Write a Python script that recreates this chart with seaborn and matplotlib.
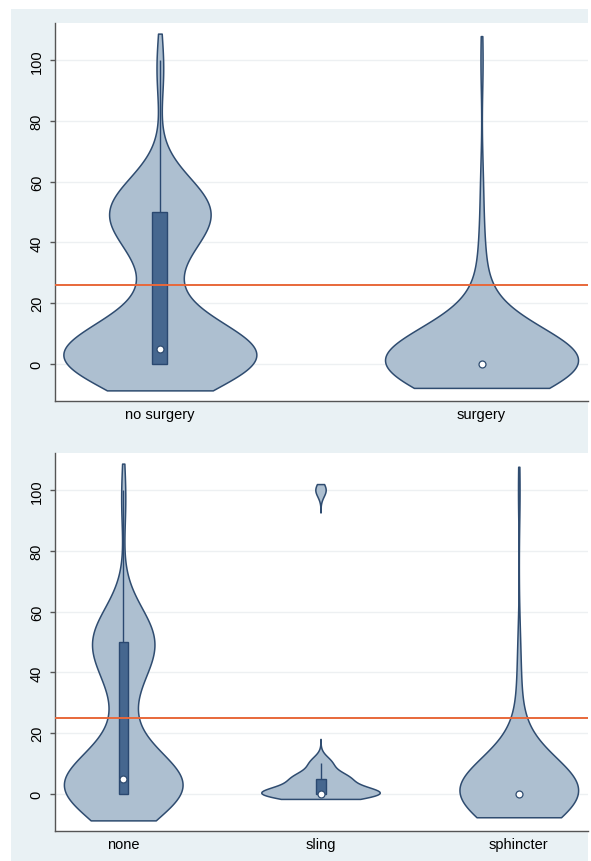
import numpy as np
import pandas as pd
import seaborn as sns
import matplotlib.pyplot as plt
from matplotlib.patches import Rectangle

''' DATA '''
# panel 1: surgery vs no surgery
top_groups = ['no surgery', 'surgery']
nosurg_vals = [0, 5, 10, 15, 20, 25, 30, 35, 40, 45, 50, 55, 60, 95, 100]
nosurg_counts = [33, 18, 6, 3, 1, 1, 1, 3, 4, 4, 15, 6, 3, 1, 1]
surg_vals = [0, 5, 10, 15, 20, 25, 30, 35, 45, 60, 100]
surg_counts = [77, 10, 6, 2, 1, 1, 1, 1, 1, 1, 1]

# panel 2: type of surgery
bottom_groups = ['none', 'sling', 'sphincter']
none_vals = [0, 5, 10, 15, 20, 25, 30, 35, 40, 45, 50, 55, 60, 95, 100]
none_counts = [33, 18, 6, 3, 1, 1, 1, 3, 4, 4, 15, 6, 3, 1, 1]
sling_vals = [0, 5, 10, 100]
sling_counts = [11, 5, 2, 1]
sphinc_vals = [0, 5, 10, 15, 20, 25, 30, 40, 50, 100]
sphinc_counts = [64, 9, 5, 1, 1, 1, 1, 1, 1, 1]

# kernel bandwidths (score units), cut (in bandwidths) and reference lines
top_bw = [10.0, 10.5]
top_cut = [0.88, 0.76]
bottom_bw = [10.0, 2.2, 10.5]
bottom_cut = [0.88, 0.86, 0.74]
ref_top = 25.8
ref_bottom = 25.1
y_ticks = [0, 20, 40, 60, 80, 100]

''' STYLE '''
violin_fill = '#adbfd0'
violin_edge = '#2f4c70'
box_fill = '#46678f'
box_edge = '#2a4870'
ref_color = '#e8683a'
panel_bg = '#e9f1f4'
grid_color = '#edf0f2'

plt.rcParams['font.family'] = ['Liberation Sans', 'DejaVu Sans']


def drop_gaps(coll, tol=1e-4):
    # split a violin where its width is ~0 so empty stretches are not outlined
    v = coll.get_paths()[0].vertices
    t = np.unique(v[:, 1])
    lo = np.array([v[v[:, 1] == y, 0].min() for y in t])
    hi = np.array([v[v[:, 1] == y, 0].max() for y in t])
    keep = (hi - lo) > tol
    edges = np.flatnonzero(np.diff(np.r_[0, keep.astype(int), 0]))
    polys = []
    for a, b in zip(edges[::2], edges[1::2]):
        polys.append(np.r_[np.c_[lo[a:b], t[a:b]], np.c_[hi[a:b], t[a:b]][::-1]])
    coll.set_verts(polys)


def draw_panel(ax, groups, samples, bws, cuts, ref, xlim):
    for name, obs, bw, cut in zip(groups, samples, bws, cuts):
        sns.violinplot(
            x=[name] * len(obs), y=obs, order=groups, ax=ax,
            bw_method=bw / np.std(obs, ddof=1), cut=cut, gridsize=300,
            density_norm='width', width=0.6, inner=None, saturation=1,
            color=violin_fill, linecolor=violin_edge, linewidth=1.1
        )
        drop_gaps(ax.collections[-1])

    # boxes only where the IQR is not empty
    bx, by = [], []
    for name, obs in zip(groups, samples):
        q1, q3 = np.percentile(obs, [25, 75])
        if q3 > q1:
            bx += [name] * len(obs)
            by += list(obs)
    sns.boxplot(
        x=bx, y=by, order=groups, ax=ax, width=0.047, whis=1.5,
        showfliers=False, showcaps=False, saturation=1,
        color=box_fill, linecolor=box_edge, linewidth=1,
        medianprops={'linewidth': 0}
    )

    df = pd.DataFrame({
        'group': np.repeat(groups, [len(o) for o in samples]),
        'value': np.concatenate(samples)
    })
    sns.pointplot(
        data=df, x='group', y='value', order=groups, ax=ax,
        estimator='median', errorbar=None, linestyles='none', markers='o',
        color='white', markersize=5, markeredgecolor=violin_edge,
        markeredgewidth=0.9
    )

    ax.axhline(ref, color=ref_color, linewidth=1.4, zorder=3)

    ax.set_xlim(xlim)
    ax.set_ylim(-12.3, 112.3)
    ax.set_yticks(y_ticks)
    ax.set_yticklabels([str(v) for v in y_ticks], rotation=90, va='center')
    ax.set_xticks(range(len(groups)))
    ax.set_xticklabels(groups)
    ax.set_xlabel('')
    ax.set_ylabel('')
    ax.set_facecolor('white')
    ax.yaxis.grid(True, color=grid_color, linewidth=1)
    ax.xaxis.grid(False)
    ax.set_axisbelow(True)
    for s in ['top', 'right']:
        ax.spines[s].set_visible(False)
    for s in ['left', 'bottom']:
        ax.spines[s].set_color('#555555')
        ax.spines[s].set_linewidth(1)
    ax.tick_params(axis='y', length=3.6, width=1, color='#555555', pad=4.5,
                   labelsize=10.5, labelcolor='black')
    ax.tick_params(axis='x', length=0, pad=4, labelsize=10.5, labelcolor='black')


fig = plt.figure(figsize=(5.91, 8.62), dpi=100, facecolor='white')
fig.add_artist(Rectangle((11 / 591, 0), 577 / 591, 852 / 862,
                         transform=fig.transFigure, facecolor=panel_bg,
                         edgecolor='none', zorder=-1))

ax_top = fig.add_axes([55 / 591, 1 - 402 / 862, 533 / 591, 378 / 862])
ax_bot = fig.add_axes([55 / 591, 1 - 832 / 862, 533 / 591, 378 / 862])

top_samples = [np.repeat(nosurg_vals, nosurg_counts).astype(float),
               np.repeat(surg_vals, surg_counts).astype(float)]
bottom_samples = [np.repeat(none_vals, none_counts).astype(float),
                  np.repeat(sling_vals, sling_counts).astype(float),
                  np.repeat(sphinc_vals, sphinc_counts).astype(float)]

draw_panel(ax_top, top_groups, top_samples, top_bw, top_cut, ref_top,
           (-0.326, 1.331))
draw_panel(ax_bot, bottom_groups, bottom_samples, bottom_bw, bottom_cut,
           ref_bottom, (-0.345, 2.350))

fig.savefig('out.png', dpi=100)
